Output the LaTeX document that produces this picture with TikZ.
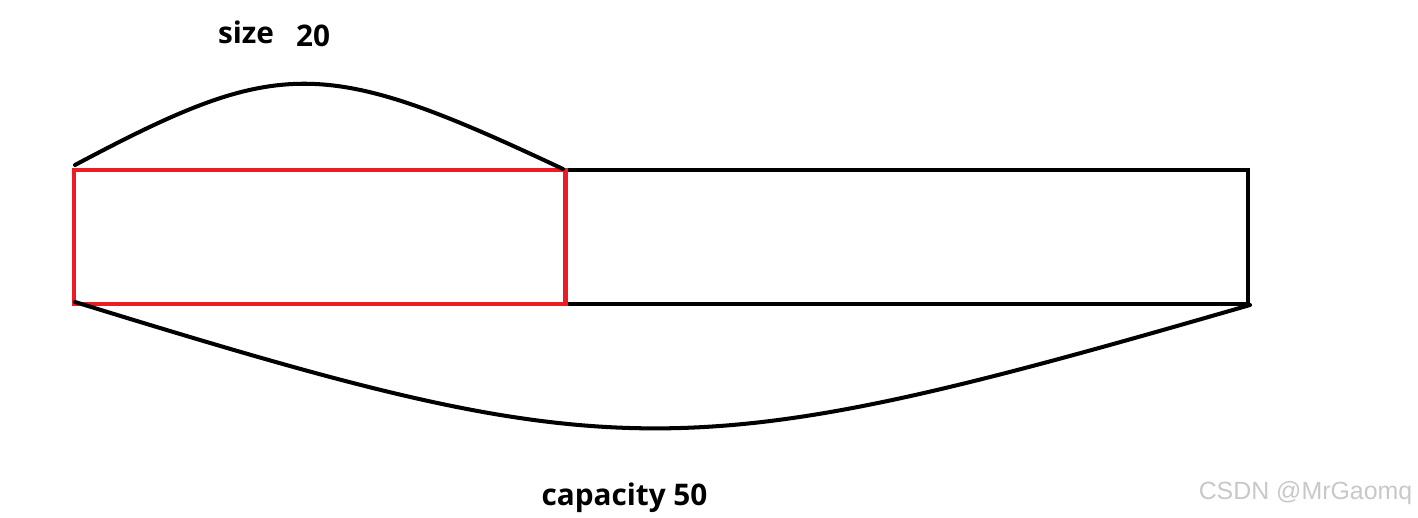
\documentclass[tikz,border=0pt]{standalone}
\usepackage{fontspec}
\newfontfamily\labelfont{Open Sans}
\newfontfamily\markfont{Liberation Sans}
\definecolor{paintred}{RGB}{237,28,36}
\definecolor{markgray}{RGB}{200,200,200}
\begin{document}
\begin{tikzpicture}[scale=2.54]%
\ifx\sketchlw\undefined\newdimen\sketchlw\fi
\global\def\sketchdraw{\draw[line width=\sketchlw]}
\global\def\sketchstop{;}
\useasboundingbox (0,0) rectangle (14.18,-5.17);
\sketchlw=3.2bp
% whole buffer
\sketchdraw (0.74,-1.70)
 --(12.48,-1.70)
 --(12.48,-3.04)
 --(0.74,-3.04)
 --cycle\sketchstop
% used part
\sketchdraw[paintred] (0.74,-1.70)
 --(5.655,-1.70)
 --(5.655,-3.04)
 --(0.74,-3.04)
 --cycle\sketchstop
\sketchlw=2.9bp
\sketchdraw[line cap=round] (0.75,-1.65)
 .. controls (2.80,-0.56) and (3.23,-0.56) .. (5.63,-1.69)\sketchstop
\sketchdraw[line cap=round] (0.75,-3.02)
 .. controls (6.20,-4.70) and (6.80,-4.70) .. (12.50,-3.05)\sketchstop
\draw (2.46,-0.43) node[anchor=base,inner sep=0pt,font=\labelfont\bfseries\fontsize{21.5}{25}\selectfont] (size) {size};
\draw (3.13,-0.46) node[anchor=base,inner sep=0pt,font=\labelfont\bfseries\fontsize{21.5}{25}\selectfont] (sizeval) {20};
\draw (6.245,-5.05) node[anchor=base,inner sep=0pt,font=\labelfont\bfseries\fontsize{21.5}{25}\selectfont] (capacity) {capacity 50};
\draw (13.055,-4.99) node[anchor=base,inner sep=0pt,text=markgray,font=\markfont\fontsize{18}{22}\selectfont] (mark) {CSDN @MrGaomq};
\end{tikzpicture}
\end{document}
